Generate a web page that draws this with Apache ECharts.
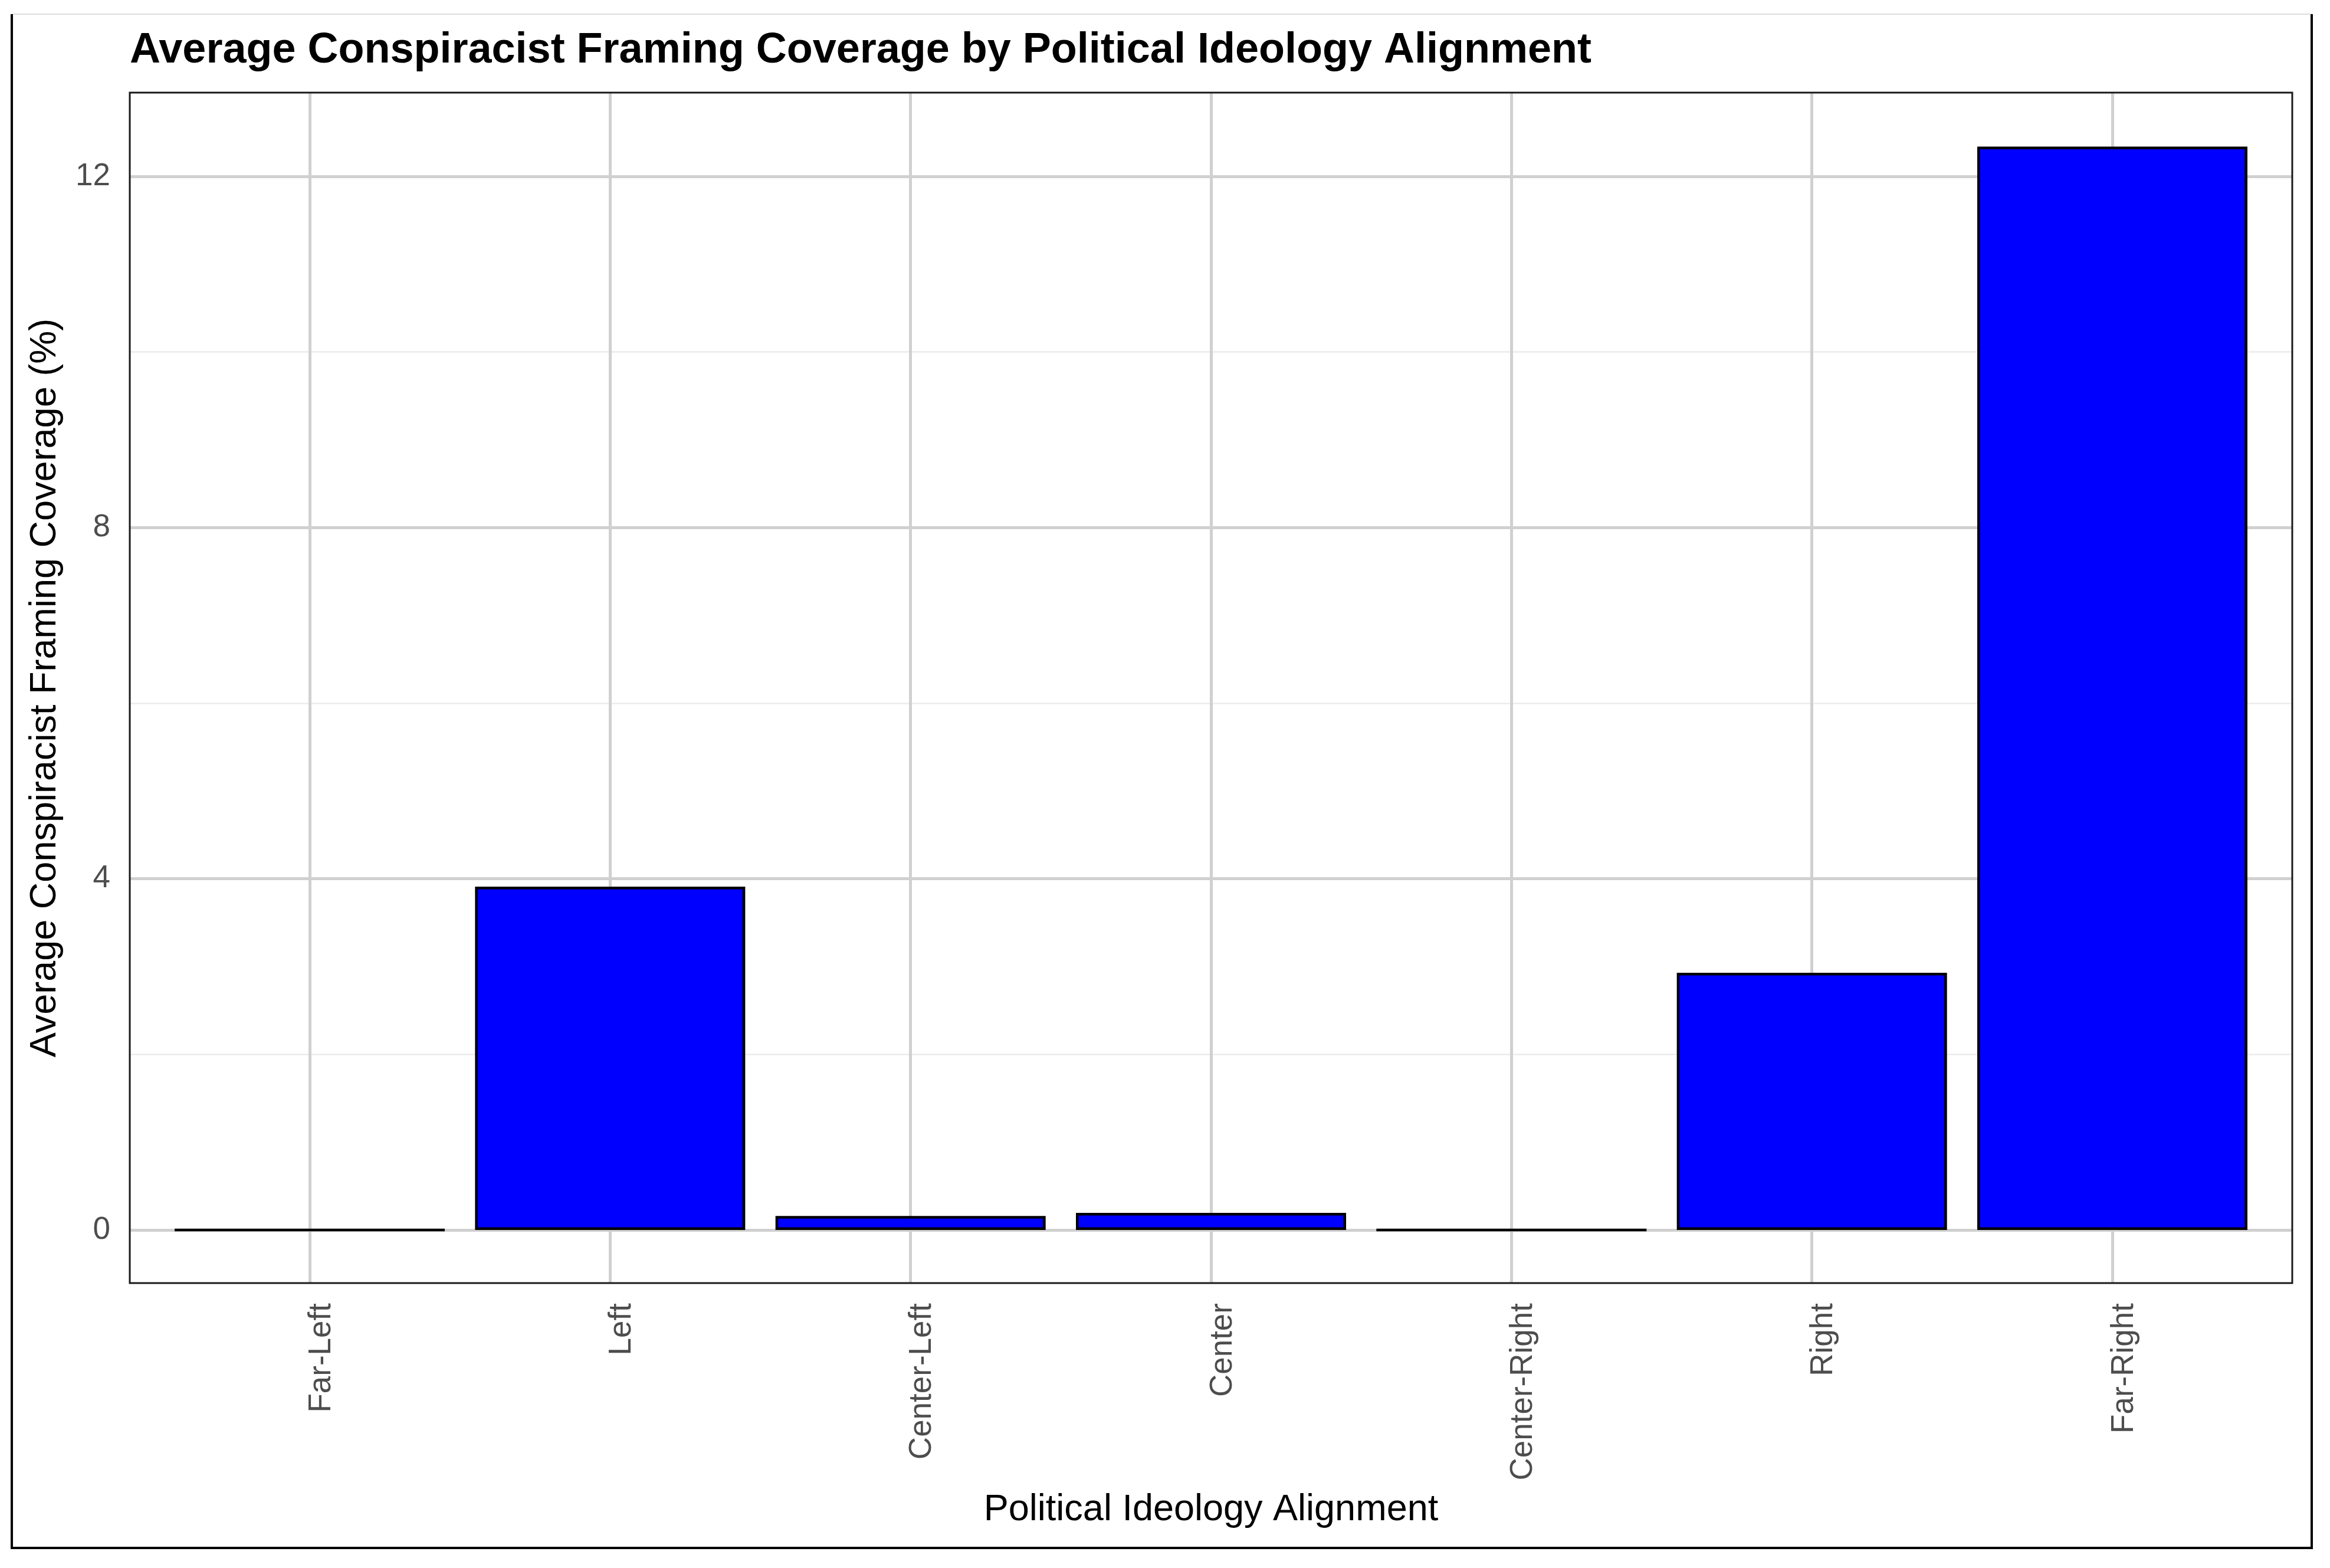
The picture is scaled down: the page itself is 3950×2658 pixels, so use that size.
<!DOCTYPE html>
<html>
<head>
<meta charset="utf-8">
<script src="https://cdn.jsdelivr.net/npm/echarts@6/dist/echarts.min.js"></script>
<style>
html,body{margin:0;padding:0;background:#fff;}
#chart{width:3950px;height:2658px;}
</style>
</head>
<body>
<div id="chart"></div>
<script>
const categories = ["Far-Left", "Left", "Center-Left", "Center", "Center-Right", "Right", "Far-Right"];
const coverage = [0, 3.91, 0.16, 0.195, 0, 2.93, 12.34];
const yTicks = [0, 4, 8, 12];
const chartTitle = "Average Conspiracist Framing Coverage by Political Ideology Alignment";
const xTitle = "Political Ideology Alignment";
const yTitle = "Average Conspiracist Framing Coverage (%)";

const FONT = '"Liberation Sans", Arial, Helvetica, sans-serif';
const chart = echarts.init(document.getElementById('chart'), null, {renderer: 'canvas'});

// panel geometry (pixels)
const P = {left: 220, right: 3886, top: 157, bottom: 2175};
const y0px = 2085, y12px = 299;
const pxPerUnit = (y0px - y12px) / 12;
const yMinB = -(P.bottom - y0px) / pxPerUnit;
const yMaxB = 12 + (y12px - P.top) / pxPerUnit;

const option = {
  backgroundColor: '#ffffff',
  animation: false,
  grid: [
    {left: P.left, right: 3950 - P.right, top: y12px, bottom: 2658 - y0px, containLabel: false},
    {left: 525, right: 3950 - 3581, top: P.top, bottom: 2658 - P.bottom, containLabel: false}
  ],
  xAxis: [
    {gridIndex: 0, type: 'value', min: 0, max: 1, show: false},
    {
      gridIndex: 1, type: 'category', data: categories, boundaryGap: false,
      axisLine: {show: false}, axisTick: {show: false},
      splitLine: {show: true, lineStyle: {color: '#d0d0d0', width: 5}},
      axisLabel: {
        rotate: 90, margin: 34, fontSize: 53, fontFamily: FONT, color: '#4d4d4d',
        verticalAlign: 'top', lineHeight: 40, interval: 0
      }
    }
  ],
  yAxis: [
    {
      gridIndex: 0, type: 'value', min: 0, max: 12, interval: 2,
      axisLine: {show: false}, axisTick: {show: false}, axisLabel: {show: false},
      splitLine: {show: true, lineStyle: {color: '#ebebeb', width: 2.5}}, z: 0
    },
    {
      gridIndex: 0, type: 'value', min: 0, max: 12, interval: 4, position: 'left',
      axisLine: {show: false}, axisTick: {show: false},
      axisLabel: {
        margin: 33, fontSize: 53, fontFamily: FONT, color: '#4d4d4d',
        formatter: function (v) { return yTicks.indexOf(v) >= 0 ? String(v) : ''; }
      },
      splitLine: {show: true, lineStyle: {color: '#d0d0d0', width: 5}}, z: 1
    },
    {gridIndex: 1, type: 'value', min: yMinB, max: yMaxB, show: false}
  ],
  series: [
    {
      type: 'bar', xAxisIndex: 1, yAxisIndex: 2, data: coverage,
      barWidth: 458, clip: false, z: 5,
      itemStyle: {color: '#0000ff', borderColor: '#000000', borderWidth: 4.5}
    }
  ],
  graphic: [
    {type: 'rect', z: 100, shape: {x: P.left, y: P.top, width: P.right - P.left, height: P.bottom - P.top},
     style: {fill: 'rgba(0,0,0,0)', stroke: '#1a1a1a', lineWidth: 3}},
    {type: 'text', z: 100, x: P.left, y: 86,
     style: {text: chartTitle, fill: '#000', font: 'bold 72px ' + FONT, textAlign: 'left', textVerticalAlign: 'middle'}},
    {type: 'text', z: 100, x: (P.left + P.right) / 2, y: 2560,
     style: {text: xTitle, fill: '#000', font: '63px ' + FONT, textAlign: 'center', textVerticalAlign: 'middle'}},
    {type: 'text', z: 100, x: 77, y: (P.top + P.bottom) / 2, rotation: Math.PI / 2,
     style: {text: yTitle, fill: '#000', font: '63px ' + FONT, textAlign: 'center', textVerticalAlign: 'middle'}},
    // outer frame
    {type: 'line', z: 100, shape: {x1: 20, y1: 24, x2: 3919, y2: 24}, style: {stroke: '#dddddd', lineWidth: 2}},
    {type: 'line', z: 100, shape: {x1: 20, y1: 24, x2: 20, y2: 2624}, style: {stroke: '#000', lineWidth: 4}},
    {type: 'line', z: 100, shape: {x1: 3919, y1: 24, x2: 3919, y2: 2624}, style: {stroke: '#000', lineWidth: 4}},
    {type: 'line', z: 100, shape: {x1: 18, y1: 2624, x2: 3921, y2: 2624}, style: {stroke: '#000', lineWidth: 4}}
  ]
};
chart.setOption(option);
</script>
</body>
</html>
